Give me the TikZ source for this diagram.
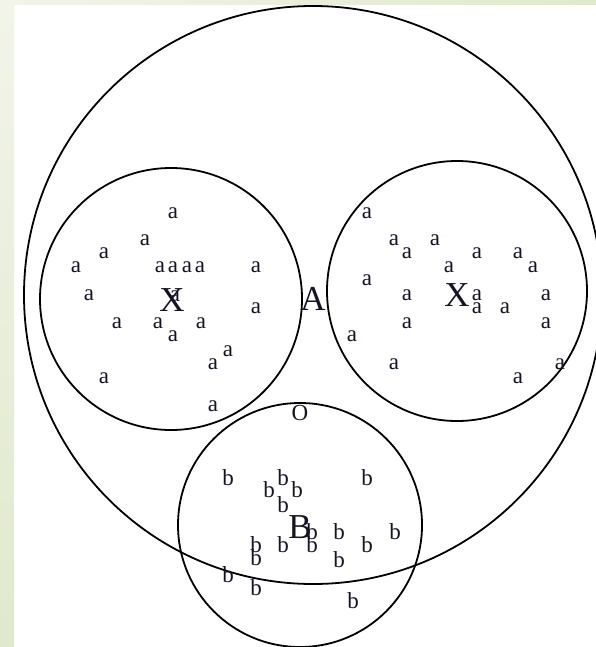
\documentclass[tikz,border=0pt]{standalone}
\usepackage{fontspec}
\setmainfont{Liberation Serif}
\definecolor{ink}{RGB}{20,20,36}
\definecolor{bandlight}{RGB}{242,244,234}
\definecolor{banddark}{RGB}{224,233,204}
\begin{document}
\begin{tikzpicture}[x=1pt,y=-1pt,
  ring/.style={draw=black,line width=1.8pt},
  elem/.style={inner sep=0pt,text=ink,font=\fontsize{23}{23}\selectfont},
  setname/.style={inner sep=0pt,text=ink,font=\fontsize{35}{35}\selectfont}]
\useasboundingbox (0,0) rectangle (596,647);
\clip (0,0) rectangle (596,647);
\fill[white] (0,0) rectangle (596,647);

% the set A, its two blocks X, and the set B
\draw[ring] (313,295) circle[radius=289pt];
\draw[ring] (171,299) circle[radius=131pt];
\draw[ring] (457,291) circle[radius=130pt];
\draw[ring] (300,525) circle[radius=122pt];

% elements of the left block
\foreach \px/\py [count=\i] in {173/213,145/240,104/253,76/267,160/267,173/267,
  187/267,200/267,256/267,89/295,175/296,256/308,117/323,158/323,201/323,
  173/336,228/351,213/364,104/378,213/406}
  \node[elem] (al\i) at (\px,\py) {a};

% elements of the right block
\foreach \px/\py [count=\i] in {367/213,394/240,435/240,407/253,477/253,518/253,
  449/267,533/267,367/280,407/295,477/295,477/308,505/308,546/295,407/323,
  546/323,352/336,394/364,560/364,518/378}
  \node[elem] (ar\i) at (\px,\py) {a};

% elements of B
\foreach \px/\py [count=\i] in {228/478,283/478,367/478,269/490,297/490,283/505,
  312/532,339/532,395/532,256/545,283/545,312/545,367/545,256/558,339/560,
  228/575,256/588,353/601}
  \node[elem] (b\i) at (\px,\py) {b};

\node[elem] (o) at (300,413) {O};

% set names
\node[setname] (Xl) at (172,300) {X};
\node[setname] (Xr) at (457,295) {X};
\node[setname] (A) at (313,299) {A};
\node[setname] (B) at (300,527) {B};

% page band along the top and left edges
\shade[left color=bandlight,right color=banddark] (0,0) rectangle (596,5);
\shade[top color=bandlight,bottom color=banddark] (0,0) rectangle (14,647);
\end{tikzpicture}
\end{document}
